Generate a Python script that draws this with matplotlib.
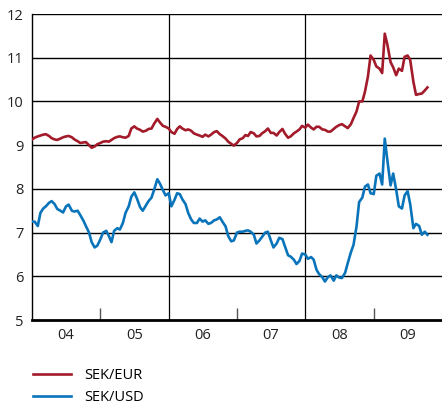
import numpy as np
import pandas as pd
import matplotlib
matplotlib.use("Agg")
import matplotlib.pyplot as plt
import matplotlib.dates as mdates

plt.rcParams['font.family'] = ['Open Sans', 'DejaVu Sans']

# Semi-monthly observations, Jan 2004 - Oct 2009 (SEK per unit of foreign currency)
sek_eur = [
    # 2004
    9.13, 9.17, 9.20, 9.22, 9.24, 9.25, 9.21, 9.16, 9.13, 9.12, 9.15, 9.18,
    9.20, 9.21, 9.18, 9.13, 9.09, 9.05, 9.06, 9.07, 9.00, 8.94, 8.97, 9.02,
    # 2005
    9.05, 9.08, 9.09, 9.08, 9.12, 9.16, 9.19, 9.20, 9.18, 9.17, 9.21, 9.38,
    9.43, 9.38, 9.35, 9.31, 9.33, 9.37, 9.38, 9.49, 9.60, 9.52, 9.44, 9.42,
    # 2006
    9.38, 9.30, 9.26, 9.37, 9.43, 9.38, 9.34, 9.36, 9.33, 9.27, 9.24, 9.22,
    9.19, 9.24, 9.20, 9.24, 9.30, 9.32, 9.25, 9.21, 9.15, 9.08, 9.03, 8.99,
    # 2007
    9.05, 9.13, 9.16, 9.23, 9.21, 9.30, 9.27, 9.20, 9.21, 9.27, 9.32, 9.38,
    9.28, 9.28, 9.22, 9.30, 9.37, 9.26, 9.17, 9.20, 9.27, 9.31, 9.36, 9.44,
    # 2008
    9.40, 9.47, 9.40, 9.36, 9.42, 9.42, 9.36, 9.35, 9.31, 9.31, 9.37, 9.42,
    9.46, 9.48, 9.43, 9.39, 9.48, 9.62, 9.77, 10.00, 10.00, 10.22, 10.57, 11.05,
    # 2009
    10.95, 10.80, 10.75, 10.65, 11.55, 11.30, 10.90, 10.78, 10.60, 10.75, 10.70, 11.02,
    11.05, 10.95, 10.45, 10.15, 10.17, 10.18, 10.25, 10.32,
]

sek_usd = [
    # 2004
    7.25, 7.25, 7.15, 7.45, 7.55, 7.60, 7.68, 7.72, 7.65, 7.54, 7.50, 7.46,
    7.60, 7.64, 7.50, 7.48, 7.50, 7.40, 7.28, 7.15, 7.00, 6.78, 6.66, 6.70,
    # 2005
    6.85, 7.00, 7.04, 6.92, 6.78, 7.04, 7.10, 7.07, 7.22, 7.45, 7.60, 7.82,
    7.92, 7.78, 7.58, 7.50, 7.62, 7.72, 7.80, 7.98, 8.22, 8.12, 7.97, 7.85,
    # 2006
    7.90, 7.60, 7.75, 7.90, 7.88, 7.76, 7.65, 7.45, 7.30, 7.22, 7.22, 7.32,
    7.25, 7.28, 7.20, 7.22, 7.28, 7.30, 7.35, 7.25, 7.14, 6.92, 6.80, 6.82,
    # 2007
    7.00, 7.02, 7.02, 7.04, 7.05, 7.02, 6.95, 6.75, 6.82, 6.90, 7.00, 7.02,
    6.82, 6.66, 6.75, 6.88, 6.85, 6.68, 6.48, 6.45, 6.38, 6.28, 6.35, 6.52,
    # 2008
    6.50, 6.40, 6.44, 6.38, 6.15, 6.05, 5.98, 5.88, 5.98, 6.02, 5.90, 6.02,
    5.97, 5.96, 6.08, 6.30, 6.55, 6.72, 7.14, 7.70, 7.80, 8.05, 8.10, 7.90,
    # 2009
    7.88, 8.30, 8.35, 8.10, 9.15, 8.65, 8.08, 8.35, 7.98, 7.60, 7.55, 7.85,
    7.95, 7.65, 7.10, 7.20, 7.15, 6.95, 7.02, 6.95,
]

series_labels = ["SEK/EUR", "SEK/USD"]
series_colors = ["#a31a2a", "#0a74bb"]
year_labels = ["04", "05", "06", "07", "08", "09"]
years = [2004, 2005, 2006, 2007, 2008, 2009]

dates = pd.date_range("2004-01-01", periods=len(sek_eur), freq="SMS")

fig = plt.figure(figsize=(4.42, 4.05), dpi=100)
ax = fig.add_axes([32 / 442, 1 - 320 / 405, 1 - 32 / 442, (320 - 14) / 405])

for vals, lab, col in zip([sek_eur, sek_usd], series_labels, series_colors):
    ax.plot(dates, vals, color=col, lw=1.9, label=lab, zorder=3,
            solid_joinstyle="round")

ax.set_ylim(5, 12)
ax.set_xlim(pd.Timestamp("2004-01-01"), pd.Timestamp("2010-01-01"))

# horizontal grid
ax.set_yticks(range(5, 13))
for v in range(6, 13):
    ax.axhline(v, color="black", lw=1.0, zorder=1)

# full-height separators and short year ticks
for y in (2006, 2008):
    ax.axvline(pd.Timestamp(f"{y}-01-01"), color="black", lw=0.9, zorder=1)

ax.set_xticks([pd.Timestamp(f"{y}-07-01") for y in years])
ax.set_xticklabels(year_labels)
ax.set_xticks([pd.Timestamp(f"{y}-01-01") for y in (2005, 2007, 2009)], minor=True)
ax.tick_params(axis="x", which="major", length=0, pad=6, labelsize=10.5, colors="#222222")
ax.tick_params(axis="x", which="minor", direction="in", length=9, width=1, color="#555555")
ax.tick_params(axis="y", length=0, pad=6, labelsize=10.5, colors="#222222")

for s in ("top", "right"):
    ax.spines[s].set_visible(False)
ax.spines["left"].set_linewidth(1.0)
ax.spines["bottom"].set_linewidth(2.0)

handles, labels = ax.get_legend_handles_labels()
fig.legend(handles, labels, loc="upper left", bbox_to_anchor=(20 / 442, 1 - 355 / 405),
           frameon=False, fontsize=10.5, handlelength=2.6, handletextpad=0.9,
           labelspacing=0.45)

fig.savefig("out.png", dpi=100)
